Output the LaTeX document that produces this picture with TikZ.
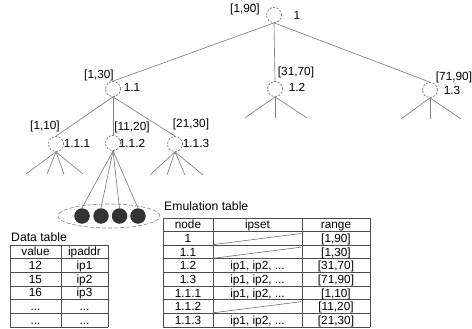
\documentclass[tikz,border=0pt]{standalone}
\usepackage{fontspec}
\setmainfont{Liberation Sans}
\usetikzlibrary{shapes.geometric}
\begin{document}
\begin{tikzpicture}[x=1pt,y=-1pt,
  cnode/.style={circle,draw=black!55,dash pattern=on 2pt off 1.5pt,line width=0.7pt,minimum size=15pt,inner sep=0pt},
  bnode/.style={circle,fill=black!80,minimum size=15.5pt,inner sep=0pt},
  edge/.style={draw=black!50,line width=0.65pt},
  lbl/.style={inner sep=0pt,anchor=base,font=\fontsize{11.8}{13}\selectfont},
  ttl/.style={inner sep=0pt,anchor=base west,font=\fontsize{12.2}{14}\selectfont},
  tline/.style={draw=black!70,line width=0.85pt},
  dline/.style={draw=black!60,line width=0.55pt}]
\useasboundingbox (0,0) rectangle (472,329);

% tree nodes
\node[cnode] (n1) at (274,15) {};
\node[cnode] (n11) at (113,89) {};
\node[cnode] (n12) at (275,89) {};
\node[cnode] (n13) at (430,90) {};
\node[cnode] (n111) at (56,144) {};
\node[cnode] (n112) at (113,143) {};
\node[cnode] (n113) at (175,144) {};

% labels
\node[lbl] (r1) at (245,13) {[1,90]};
\node[lbl] (t1) at (297,20) {1};
\node[lbl] (r11) at (99,79) {[1,30]};
\node[lbl] (t11) at (132,92) {1.1};
\node[lbl] (r12) at (296,76) {[31,70]};
\node[lbl] (t12) at (297,92) {1.2};
\node[lbl] (r13) at (454,81) {[71,90]};
\node[lbl] (t13) at (452,95) {1.3};
\node[lbl] (r111) at (45,129) {[1,10]};
\node[lbl] (t111) at (77,147) {1.1.1};
\node[lbl] (r112) at (132,131) {[11,20]};
\node[lbl] (t112) at (132,147) {1.1.2};
\node[lbl] (r113) at (191,128) {[21,30]};
\node[lbl] (t113) at (196,147) {1.1.3};

% edges
\draw[edge] (n1.south) -- (n11.north);
\draw[edge] (n1.south) -- (n12.north);
\draw[edge] (n1.south) -- (n13.north);
\draw[edge] (n11.south) -- (n111.north);
\draw[edge] (n11.south) -- (n112.north);
\draw[edge] (n11.south) -- (n113.north);

% leaf sticks
\coordinate (a1) at (26,174); \coordinate (a2) at (47,174);
\coordinate (a3) at (64,174); \coordinate (a4) at (83,174);
\foreach \c in {a1,a2,a3,a4} \draw[edge] (n111.south) -- (\c);
\coordinate (c1) at (150,175); \coordinate (c2) at (167,175);
\coordinate (c3) at (185,175); \coordinate (c4) at (203,175);
\foreach \c in {c1,c2,c3,c4} \draw[edge] (n113.south) -- (\c);
\coordinate (d1) at (245,118); \coordinate (d2) at (275,118); \coordinate (d3) at (307,118);
\foreach \c in {d1,d2,d3} \draw[edge] (n12.south) -- (\c);
\coordinate (e1) at (401,119); \coordinate (e2) at (430,119); \coordinate (e3) at (461,119);
\foreach \c in {e1,e2,e3} \draw[edge] (n13.south) -- (\c);

% data items
\node[ellipse,draw=black!50,dash pattern=on 4pt off 2pt,line width=0.6pt,minimum width=102pt,minimum height=24pt,inner sep=0pt] (ell) at (109,216) {};
\node[bnode] (b1) at (82,216) {};
\node[bnode] (b2) at (101,216) {};
\node[bnode] (b3) at (119.5,216) {};
\node[bnode] (b4) at (138,216) {};
\foreach \b in {b1,b2,b3,b4} \draw[edge] (n112.south) -- (\b.north);

% Data table
\node[ttl] (dt) at (11,241) {Data table};
\foreach \k in {0,...,6} \draw[tline] (10,{245+13.667*\k}) -- (108,{245+13.667*\k});
\foreach \x in {10,61,108} \draw[tline] (\x,245) -- (\x,327);
\node[lbl] (v0) at (35.5,255.8) {value};
\node[lbl] (p0) at (84.5,255.8) {ipaddr};
\node[lbl] (v1) at (35.5,269.5) {12};
\node[lbl] (p1) at (84.5,269.5) {ip1};
\node[lbl] (v2) at (35.5,283.2) {15};
\node[lbl] (p2) at (84.5,283.2) {ip2};
\node[lbl] (v3) at (35.5,296.8) {16};
\node[lbl] (p3) at (84.5,296.8) {ip3};
\node[lbl] (v4) at (35.5,310.5) {...};
\node[lbl] (p4) at (84.5,310.5) {...};
\node[lbl] (v5) at (35.5,324.2) {...};
\node[lbl] (p5) at (84.5,324.2) {...};

% Emulation table
\node[ttl] (et) at (164,211) {Emulation table};
\foreach \k in {0,...,8} \draw[tline] (163,{218+13.625*\k}) -- (370,{218+13.625*\k});
\foreach \x in {163,213,302,370} \draw[tline] (\x,218) -- (\x,327);
\node[lbl] (m0a) at (188,228.8) {node};
\node[lbl] (m0b) at (257.5,228.8) {ipset};
\node[lbl] (m0c) at (336,228.8) {range};
\node[lbl] (m1a) at (188,242.4) {1};
\node[lbl] (m1c) at (336,242.4) {[1,90]};
\node[lbl] (m2a) at (188,256.1) {1.1};
\node[lbl] (m2c) at (336,256.1) {[1,30]};
\node[lbl] (m3a) at (188,269.7) {1.2};
\node[lbl] (m3b) at (257.5,269.7) {ip1, ip2, ...};
\node[lbl] (m3c) at (336,269.7) {[31,70]};
\node[lbl] (m4a) at (188,283.3) {1.3};
\node[lbl] (m4b) at (257.5,283.3) {ip1, ip2, ...};
\node[lbl] (m4c) at (336,283.3) {[71,90]};
\node[lbl] (m5a) at (188,297) {1.1.1};
\node[lbl] (m5b) at (257.5,297) {ip1, ip2, ...};
\node[lbl] (m5c) at (336,297) {[1,10]};
\node[lbl] (m6a) at (188,310.6) {1.1.2};
\node[lbl] (m6c) at (336,310.6) {[11,20]};
\node[lbl] (m7a) at (188,324.2) {1.1.3};
\node[lbl] (m7b) at (257.5,324.2) {ip1, ip2, ...};
\node[lbl] (m7c) at (336,324.2) {[21,30]};
% empty ipset diagonals
\draw[dline] (214,244.5) -- (301,233.5);
\draw[dline] (214,258.2) -- (301,247.2);
\draw[dline] (214,312.7) -- (301,301.7);
\end{tikzpicture}
\end{document}
